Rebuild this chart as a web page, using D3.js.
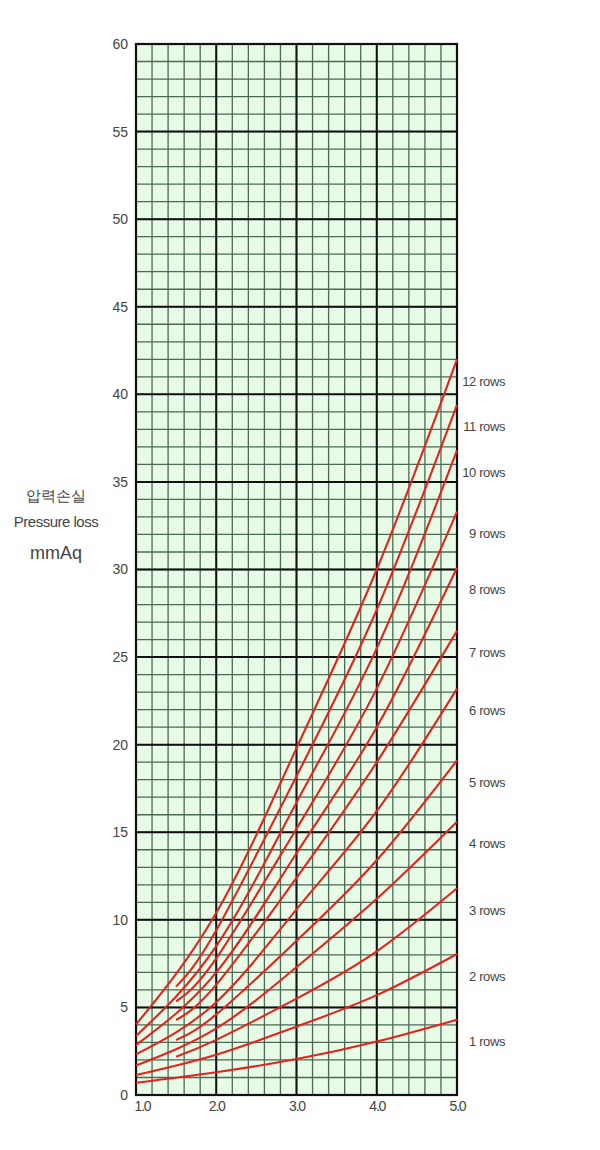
<!DOCTYPE html>
<html>
<head>
<meta charset="utf-8">
<script src="https://cdn.jsdelivr.net/npm/d3@7"></script>
<style>
  body { margin: 0; background: #fff; }
  svg text { font-family: "Liberation Sans Narrow", "Liberation Sans", Arial, sans-serif; fill: #444; }
</style>
</head>
<body>
<div id="chart"></div>
<script>
// velocity axis (tick labels read 1.0 .. 5.0)
let xTicks = [1.0, 2.0, 3.0, 4.0, 5.0]
let yTicks = [0, 5, 10, 15, 20, 25, 30, 35, 40, 45, 50, 55, 60]

// curves that start at the left edge
let xsFull = [1.0, 2.0, 3.0, 4.0, 5.0]
// curves that start at 1.5
let xsHalf = [1.5, 2.0, 3.0, 4.0, 5.0]

let rowNames = ['1 rows', '2 rows', '3 rows', '4 rows', '5 rows', '6 rows',
  '7 rows', '8 rows', '9 rows', '10 rows', '11 rows', '12 rows']
let rowStart = ['full', 'full', 'half', 'full', 'half', 'full',
  'half', 'full', 'half', 'full', 'half', 'full']
let rowValues = [
  [0.7, 1.3, 2.05, 3.05, 4.3],
  [1.14, 2.3, 3.9, 5.7, 8.05],
  [2.19, 3.15, 5.5, 8.2, 11.8],
  [1.68, 3.8, 7.3, 11.2, 15.6],
  [3.14, 4.6, 8.8, 13.4, 19.1],
  [2.32, 5.3, 10.6, 16.2, 23.2],
  [4.28, 6.3, 12.4, 19.0, 26.5],
  [2.85, 7.0, 13.8, 21.0, 30.1],
  [5.35, 7.8, 15.2, 23.2, 33.3],
  [3.37, 8.5, 16.7, 25.5, 36.8],
  [6.19, 9.4, 18.2, 27.7, 39.4],
  [4.03, 10.4, 19.8, 30.0, 42.0]
]

let titleLines = ['압력손실', 'Pressure loss', 'mmAq']

let W = 600
let H = 1150
let margin = { top: 44, right: 143, bottom: 55, left: 136 }

let svg = d3.select('#chart').append('svg').attr('width', W).attr('height', H)

let x = d3.scaleLinear().domain([1, 5]).range([margin.left, W - margin.right])
let y = d3.scaleLinear().domain([0, 60]).range([H - margin.bottom, margin.top])

// background
svg.append('rect')
    .attr('x', x(1)).attr('y', y(60))
    .attr('width', x(5) - x(1)).attr('height', y(0) - y(60))
    .attr('fill', '#e8fbe6')

// minor grid
let g = svg.append('g')
g.selectAll('.vx').data(d3.range(1, 5.001, 0.2)).enter().append('line')
    .attr('x1', (d) => x(d)).attr('x2', (d) => x(d))
    .attr('y1', y(0)).attr('y2', y(60))
    .attr('stroke', '#4a6a53').attr('stroke-width', 1.3)
g.selectAll('.hy').data(d3.range(0, 60.001, 1)).enter().append('line')
    .attr('y1', (d) => y(d)).attr('y2', (d) => y(d))
    .attr('x1', x(1)).attr('x2', x(5))
    .attr('stroke', '#4a6a53').attr('stroke-width', 1.3)

// major grid
g.selectAll('.mx').data(xTicks).enter().append('line')
    .attr('x1', (d) => x(d)).attr('x2', (d) => x(d))
    .attr('y1', y(0)).attr('y2', y(60))
    .attr('stroke', '#111').attr('stroke-width', 2)
g.selectAll('.my').data(yTicks).enter().append('line')
    .attr('y1', (d) => y(d)).attr('y2', (d) => y(d))
    .attr('x1', x(1)).attr('x2', x(5))
    .attr('stroke', '#111').attr('stroke-width', 2)

svg.append('rect')
    .attr('x', x(1)).attr('y', y(60))
    .attr('width', x(5) - x(1)).attr('height', y(0) - y(60))
    .attr('fill', 'none').attr('stroke', '#111').attr('stroke-width', 2.2)

// curves
let line = d3.line()
    .x((d) => x(d[0]))
    .y((d) => y(d[1]))
    .curve(d3.curveNatural)

rowValues.forEach(function (vals, i) {
  let xs = rowStart[i] === 'full' ? xsFull : xsHalf
  let pts = xs.map((v, j) => [v, vals[j]])
  svg.append('path')
      .attr('d', line(pts))
      .attr('fill', 'none')
      .attr('stroke', '#e3231c')
      .attr('stroke-width', 2.1)

  svg.append('text')
      .attr('x', x(5) + 48)
      .attr('y', y(vals[vals.length - 1]) + 22)
      .attr('dy', '0.35em')
      .attr('text-anchor', 'end')
      .attr('font-size', 13)
      .attr('letter-spacing', -0.4)
      .text(rowNames[i])
})

// y labels
let ya = svg.append('g')
    .attr('transform', `translate(${x(1) - 8},0)`)
    .call(d3.axisLeft(y).tickValues(yTicks).tickSize(0).tickPadding(0))
ya.select('.domain').remove()
ya.selectAll('text').attr('font-size', 14).attr('fill', '#444')
    .style('font-family', '"Liberation Sans Narrow", "Liberation Sans", Arial, sans-serif')

// x labels
let xa = svg.append('g')
    .attr('transform', `translate(0,${y(0) + 6})`)
    .call(d3.axisBottom(x).tickValues(xTicks).tickSize(0).tickPadding(0).tickFormat(d3.format('.1f')))
xa.select('.domain').remove()
xa.selectAll('text').attr('font-size', 14).attr('fill', '#444').attr('letter-spacing', -1.2)
    .style('font-family', '"Liberation Sans Narrow", "Liberation Sans", Arial, sans-serif')
xa.selectAll('.tick').filter((d) => d === 1).select('text').attr('dx', 6)

// axis title
svg.selectAll('.title').data(titleLines).enter().append('text')
    .attr('x', 56)
    .attr('y', (d, i) => [501, 527, 559][i])
    .attr('text-anchor', 'middle')
    .attr('font-size', (d, i) => [15, 15, 18][i])
    .attr('letter-spacing', (d, i) => i === 1 ? -0.5 : 0)
    .attr('fill', '#333')
    .text((d) => d)
</script>
</body>
</html>
